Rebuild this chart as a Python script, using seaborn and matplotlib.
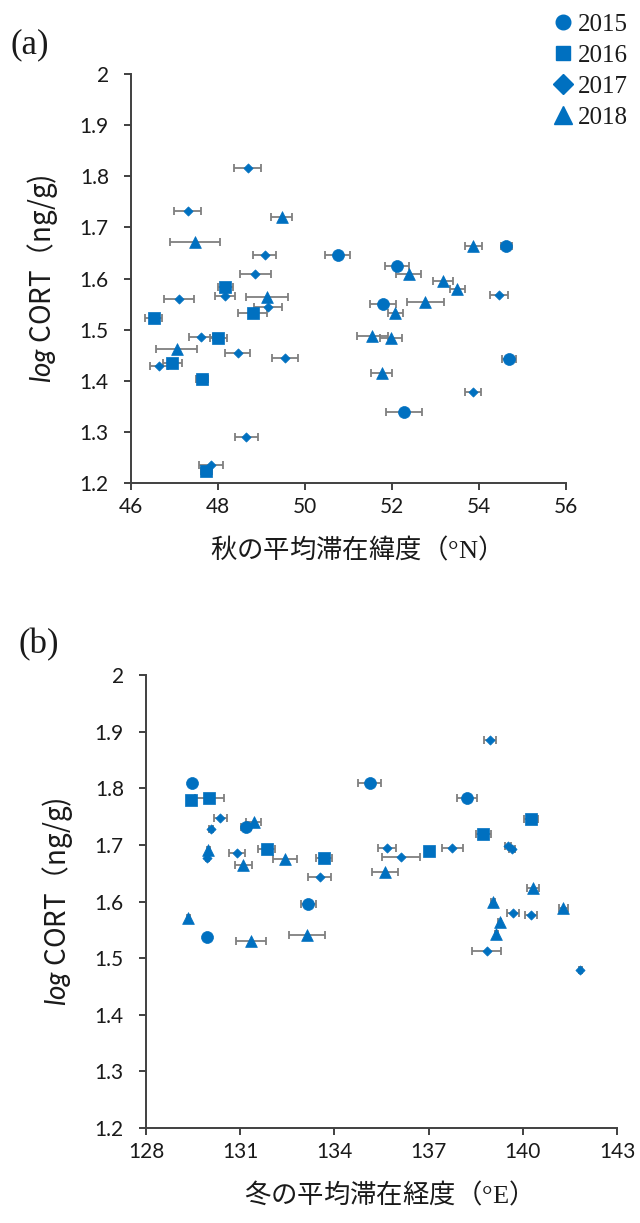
import numpy as np
import pandas as pd
import matplotlib
matplotlib.use("Agg")
import matplotlib.pyplot as plt
from matplotlib.lines import Line2D
import seaborn as sns

# ---- (a) autumn mean latitude vs log CORT ----
a_lat_2015 = [50.75, 52.12, 54.63, 51.79, 54.69, 52.27]
a_err_2015 = [0.28, 0.27, 0.13, 0.30, 0.15, 0.41]
a_cort_2015 = [1.646, 1.625, 1.664, 1.550, 1.443, 1.338]

a_lat_2016 = [48.17, 48.80, 46.52, 48.01, 46.95, 47.64, 47.73]
a_err_2016 = [0.17, 0.33, 0.20, 0.20, 0.22, 0.14, 0.13]
a_cort_2016 = [1.584, 1.533, 1.523, 1.483, 1.435, 1.404, 1.223]

a_lat_2017 = [48.68, 47.30, 49.07, 48.86, 48.17, 47.11, 49.14, 47.61,
              48.45, 49.54, 46.64, 48.65, 47.84, 54.46, 53.86]
a_err_2017 = [0.32, 0.32, 0.27, 0.35, 0.23, 0.34, 0.32, 0.28,
              0.28, 0.30, 0.20, 0.26, 0.27, 0.21, 0.19]
a_cort_2017 = [1.816, 1.732, 1.646, 1.609, 1.566, 1.560, 1.544, 1.485,
               1.455, 1.445, 1.429, 1.289, 1.235, 1.568, 1.378]

a_lat_2018 = [49.46, 47.47, 49.13, 47.05, 53.87, 52.38, 53.18, 53.50,
              52.77, 52.08, 51.55, 51.97, 51.76]
a_err_2018 = [0.25, 0.57, 0.49, 0.47, 0.20, 0.29, 0.23, 0.17,
              0.43, 0.18, 0.35, 0.25, 0.24]
a_cort_2018 = [1.721, 1.671, 1.563, 1.462, 1.664, 1.609, 1.596, 1.579,
               1.555, 1.532, 1.488, 1.484, 1.416]

# ---- (b) winter mean longitude vs log CORT ----
b_lon_2015 = [129.46, 131.18, 133.17, 129.95, 135.12, 138.22]
b_err_2015 = [0.05, 0.15, 0.23, 0.05, 0.37, 0.31]
b_cort_2015 = [1.810, 1.732, 1.595, 1.537, 1.810, 1.783]

b_lon_2016 = [129.44, 130.02, 131.85, 133.67, 140.26, 138.74, 137.02]
b_err_2016 = [0.05, 0.45, 0.27, 0.25, 0.23, 0.24, 0.05]
b_cort_2016 = [1.780, 1.782, 1.692, 1.677, 1.745, 1.719, 1.690]

b_lon_2017 = [130.37, 130.07, 129.95, 130.89, 133.53, 138.96, 135.68, 137.75,
              139.53, 139.66, 136.13, 139.68, 140.26, 138.85, 141.83]
b_err_2017 = [0.20, 0.05, 0.05, 0.26, 0.36, 0.18, 0.29, 0.33,
              0.10, 0.10, 0.60, 0.19, 0.18, 0.46, 0.05]
b_cort_2017 = [1.748, 1.728, 1.677, 1.686, 1.643, 1.885, 1.694, 1.694,
               1.698, 1.693, 1.679, 1.579, 1.576, 1.512, 1.479]

b_lon_2018 = [131.43, 129.98, 131.10, 132.43, 129.35, 131.34, 133.13, 135.61,
              140.32, 139.05, 141.29, 139.27, 139.16]
b_err_2018 = [0.23, 0.05, 0.27, 0.39, 0.05, 0.47, 0.57, 0.40,
              0.19, 0.05, 0.15, 0.05, 0.05]
b_cort_2018 = [1.741, 1.691, 1.665, 1.675, 1.570, 1.531, 1.540, 1.652,
               1.623, 1.600, 1.589, 1.563, 1.543]

years = ["2015", "2016", "2017", "2018"]
a_x_ticks = [46, 48, 50, 52, 54, 56]
b_x_ticks = [128, 131, 134, 137, 140, 143]
y_ticks = [1.2, 1.3, 1.4, 1.5, 1.6, 1.7, 1.8, 1.9, 2.0]
y_tick_labels = ["1.2", "1.3", "1.4", "1.5", "1.6", "1.7", "1.8", "1.9", "2"]


def frame(xs, errs, ys):
    rows = []
    for yr, x, e, y in zip(years, xs, errs, ys):
        for xi, ei, yi in zip(x, e, y):
            rows.append({"year": yr, "x": xi, "err": ei, "cort": yi})
    return pd.DataFrame(rows)


df_a = frame([a_lat_2015, a_lat_2016, a_lat_2017, a_lat_2018],
             [a_err_2015, a_err_2016, a_err_2017, a_err_2018],
             [a_cort_2015, a_cort_2016, a_cort_2017, a_cort_2018])
df_b = frame([b_lon_2015, b_lon_2016, b_lon_2017, b_lon_2018],
             [b_err_2015, b_err_2016, b_err_2017, b_err_2018],
             [b_cort_2015, b_cort_2016, b_cort_2017, b_cort_2018])

sns.set_style("ticks")
plt.rcParams["font.family"] = ["Lato", "Noto Sans CJK JP", "DejaVu Sans"]
plt.rcParams["mathtext.fontset"] = "custom"
plt.rcParams["mathtext.rm"] = "Liberation Serif"
plt.rcParams["mathtext.it"] = "Lato:italic"

BLUE = "#0070C0"
GREY = "#7F7F7F"
AXIS = "#404040"
TEXT = "#1a1a1a"
marker_of = {"2015": "o", "2016": "s", "2017": "D", "2018": "^"}
size_of = {"2015": 74, "2016": 64, "2017": 22, "2018": 72}
CJK = ["Noto Sans CJK JP", "DejaVu Sans"]

fig = plt.figure(figsize=(6.4, 12.23), dpi=100)
ax_a = fig.add_axes([131 / 640, 1 - 483 / 1223, 435 / 640, 409 / 1223])
ax_b = fig.add_axes([146 / 640, 1 - 1128 / 1223, 471 / 640, 453 / 1223])


def draw(ax, df, xlim, xticks, xlabel):
    ax.errorbar(df["x"], df["cort"], xerr=df["err"], fmt="none",
                ecolor=GREY, elinewidth=1.3, capsize=2.8, capthick=1.3,
                zorder=1)
    for yr in years:
        sub = df[df["year"] == yr]
        sns.scatterplot(data=sub, x="x", y="cort", ax=ax,
                        marker=marker_of[yr], s=size_of[yr], color=BLUE,
                        edgecolor=BLUE, linewidth=0.5, zorder=3, legend=False)
    ax.set_xlim(*xlim)
    ax.set_ylim(1.2, 2.0)
    ax.set_xticks(xticks)
    ax.set_xticklabels([str(t) for t in xticks])
    ax.set_yticks(y_ticks)
    ax.set_yticklabels(y_tick_labels)
    for side in ("top", "right"):
        ax.spines[side].set_visible(False)
    for side in ("left", "bottom"):
        ax.spines[side].set_color(AXIS)
        ax.spines[side].set_linewidth(1.4)
    ax.tick_params(axis="both", direction="out", length=5, width=1.4,
                   color=AXIS, labelsize=15, labelcolor=TEXT)
    ax.tick_params(axis="y", pad=11)
    ax.tick_params(axis="x", pad=5)
    ax.set_xlabel(xlabel, fontsize=19, family=CJK, color=TEXT,
                  labelpad=13)
    ax.set_ylabel(r"$\mathit{log}$ CORT（ng/g)", fontsize=20, family=CJK,
                  color=TEXT, labelpad=14)
    ax.grid(False)


draw(ax_a, df_a, (46, 56), a_x_ticks, r"秋の平均滞在緯度（$\mathrm{°N}$）")
draw(ax_b, df_b, (128, 143), b_x_ticks, r"冬の平均滞在経度（$\mathrm{°E}$）")

SERIF = ["Liberation Serif", "DejaVu Serif"]
fig.text(10 / 640, 1 - 45 / 1223, "(a)", family=SERIF, fontsize=25,
         va="center", ha="left", color=TEXT)
fig.text(18 / 640, 1 - 645 / 1223, "(b)", family=SERIF, fontsize=25,
         va="center", ha="left", color=TEXT)

handles = [
    Line2D([], [], linestyle="none", marker="o", markersize=10.5,
           color=BLUE),
    Line2D([], [], linestyle="none", marker="s", markersize=10,
           color=BLUE),
    Line2D([], [], linestyle="none", marker="D", markersize=10,
           color=BLUE),
    Line2D([], [], linestyle="none", marker="^", markersize=12.5,
           color=BLUE),
]
leg = fig.legend(handles, years, loc="upper right",
                 bbox_to_anchor=(645 / 640, 1 + 4 / 1223), frameon=False,
                 prop={"family": SERIF, "size": 18}, handlelength=0.8,
                 handletextpad=0.2, labelspacing=0.34, borderpad=0.2)
for t in leg.get_texts():
    t.set_color(TEXT)

fig.savefig("out.png", dpi=100, facecolor="white")
